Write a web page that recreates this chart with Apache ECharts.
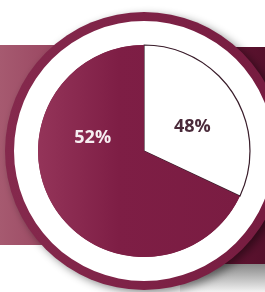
<!DOCTYPE html>
<html>
<head>
<meta charset="utf-8">
<script src="https://cdn.jsdelivr.net/npm/echarts@6/dist/echarts.min.js"></script>
<style>
  html, body { margin: 0; padding: 0; background: #fff; }
  #chart { width: 265px; height: 292px; }
</style>
</head>
<body>
<div id="chart"></div>
<script>
const categories = ["white", "maroon"];
const sliceShares = [32, 68];
const labelTexts = ["48%", "52%"];

const chart = echarts.init(document.getElementById("chart"));

const center = [144, 151];

chart.setOption({
  animation: false,
  // background band + shadow (decoration only)
  graphic: [
    {
      type: "rect",
      z: 0,
      shape: { x: 0, y: 45, width: 150, height: 200 },
      style: {
        fill: new echarts.graphic.LinearGradient(0, 0, 1, 0, [
          { offset: 0, color: "#a65a70" },
          { offset: 0.3, color: "#9c4a64" },
          { offset: 1, color: "#7e2046" },
        ]),
      },
    },
    {
      type: "rect",
      z: 0,
      shape: { x: 180, y: 262, width: 85, height: 30 },
      style: {
        fill: new echarts.graphic.LinearGradient(0, 0, 0, 1, [
          { offset: 0, color: "#808080" },
          { offset: 1, color: "#f2f2f2" },
        ]),
      },
    },
    {
      type: "rect",
      z: 0,
      shape: { x: 180, y: 47, width: 85, height: 217 },
      style: {
        fill: new echarts.graphic.LinearGradient(0, 0, 1, 0, [
          { offset: 0, color: "#6e1638" },
          { offset: 1, color: "#55102b" },
        ]),
      },
    },
  ],
  series: [
    {
      // outer maroon disc
      type: "pie",
      silent: true,
      z: 2,
      center: center,
      radius: [0, 139],
      label: { show: false },
      itemStyle: {
        color: new echarts.graphic.LinearGradient(0, 0, 1, 0, [
          { offset: 0, color: "#85294d" },
          { offset: 1, color: "#761b3f" },
        ]),
        shadowBlur: 8,
        shadowOffsetX: 4,
        shadowOffsetY: 3,
        shadowColor: "rgba(0,0,0,0.45)",
      },
      data: [1],
    },
    {
      // white ring
      type: "pie",
      silent: true,
      z: 3,
      center: center,
      radius: [106, 130],
      label: { show: false },
      itemStyle: { color: "#ffffff" },
      data: [1],
    },
    {
      type: "pie",
      z: 4,
      center: center,
      radius: [0, 106],
      startAngle: 90,
      clockwise: true,
      data: categories.map((name, i) => ({
        name: name,
        value: sliceShares[i],
        label: {
          formatter: labelTexts[i],
          color: i === 0 ? "#4a2a3a" : "#f6eef1",
          offset: i === 0 ? [1, 6] : [-4, -43],
        },
        itemStyle:
          i === 0
            ? { color: "#ffffff", borderColor: "#3a1f2c", borderWidth: 1.2 }
            : {
                color: new echarts.graphic.LinearGradient(0, 0, 1, 0, [
                  { offset: 0, color: "#943459" },
                  { offset: 0.4, color: "#7e1e45" },
                  { offset: 1, color: "#7a1c42" },
                ]),
              },
      })),
      label: {
        show: true,
        position: "inside",
        fontFamily: "Open Sans",
        fontWeight: "bold",
        fontSize: 18,
      },
      labelLine: { show: false },
      emphasis: { disabled: true },
    },
  ],
});
</script>
</body>
</html>
